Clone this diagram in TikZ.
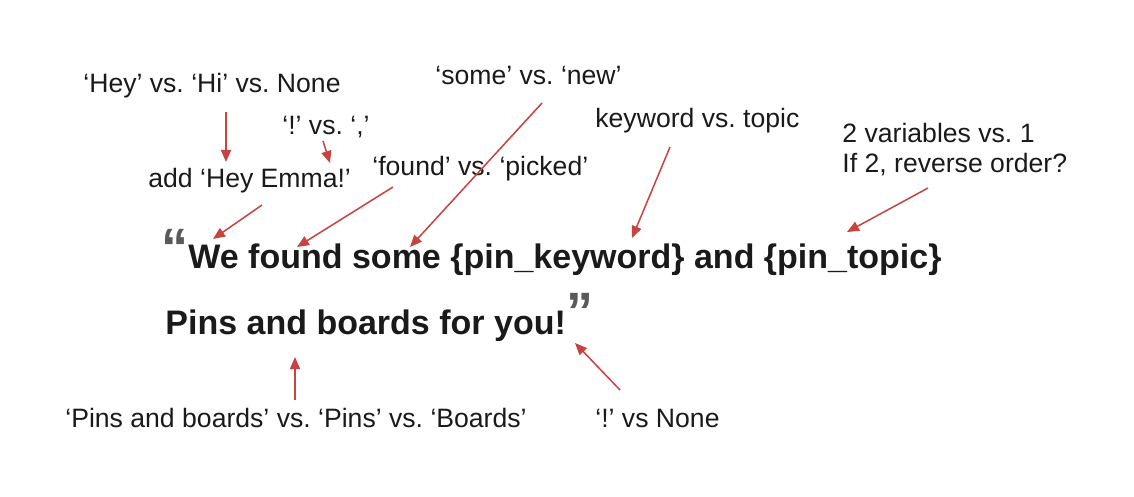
\documentclass[tikz,border=0pt]{standalone}
\usepackage{fontspec}
\setmainfont{Liberation Sans}
\usetikzlibrary{arrows.meta}
\frenchspacing

\definecolor{notered}{HTML}{C8423F}
\definecolor{quotegray}{HTML}{5A5A5A}
\definecolor{inkblack}{HTML}{1A1A1A}

\begin{document}
\begin{tikzpicture}[x=0.5pt,y=-0.5pt]
\tikzset{
  note/.style={anchor=base west,inner sep=0pt,text=inkblack,font=\fontsize{13.3}{15}\selectfont},
  phrase/.style={anchor=base west,inner sep=0pt,text=inkblack,font=\fontsize{17}{20}\selectfont\bfseries},
  quotemark/.style={inner sep=0pt,text=quotegray,font=\fontsize{27}{27}\selectfont\bfseries},
  pointer/.style={-{Triangle[length=6pt,width=5pt]},notered,line width=0.75pt}
}
\useasboundingbox (0,0) rectangle (1134,497);
% the sentence
\node[phrase] (n_line1) at (188,269) {We found some \{pin\_keyword\} and \{pin\_topic\}};
\node[phrase] (n_line2) at (165,334) {Pins and boards for you!};
\node[quotemark] (n_qopen) at (175,248) {“};
\node[quotemark] (n_qclose) at (580,312) {”};
% the notes
\node[note] (n_hey) at (83,93) {‘Hey’ vs. ‘Hi’ vs. None};
\node[note] (n_bang) at (282,135) {‘!’ vs. ‘,’};
\node[note] (n_add) at (148,188) {add ‘Hey Emma!’};
\node[note] (n_found) at (372,176) {‘found’ vs. ‘picked’};
\node[note] (n_some) at (435,85) {‘some’ vs. ‘new’};
\node[note] (n_keyword) at (595,128) {keyword vs. topic};
\node[note,align=left] (n_vars) at (842,173) {2 variables vs. 1\\If 2, reverse order?};
\node[note] (n_pins) at (65,427) {‘Pins and boards’ vs. ‘Pins’ vs. ‘Boards’};
\node[note] (n_none) at (595,427) {‘!’ vs None};
% where the arrows land
\coordinate (t_hey) at (226,162);
\coordinate (t_bang) at (330,163);
\coordinate (t_add) at (213,239);
\coordinate (t_found) at (297,247);
\coordinate (t_some) at (410,247);
\coordinate (t_keyword) at (632,238);
\coordinate (t_vars) at (847,232);
\coordinate (t_pins) at (295,357);
\coordinate (t_none) at (575,343);
\draw[pointer] ([shift={(143,19)}]n_hey.base west) -- (t_hey);
\draw[pointer] ([shift={(41,6)}]n_bang.base west) -- (t_bang);
\draw[pointer] ([shift={(114,17)}]n_add.base west) -- (t_add);
\draw[pointer] ([shift={(21,11)}]n_found.base west) -- (t_found);
\draw[pointer] ([shift={(107,18)}]n_some.base west) -- (t_some);
\draw[pointer] ([shift={(75,19)}]n_keyword.base west) -- (t_keyword);
\draw[pointer] ([shift={(86,15)}]n_vars.base west) -- (t_vars);
\draw[pointer] ([shift={(230,-27)}]n_pins.base west) -- (t_pins);
\draw[pointer] ([shift={(25,-37)}]n_none.base west) -- (t_none);
\end{tikzpicture}
\end{document}
